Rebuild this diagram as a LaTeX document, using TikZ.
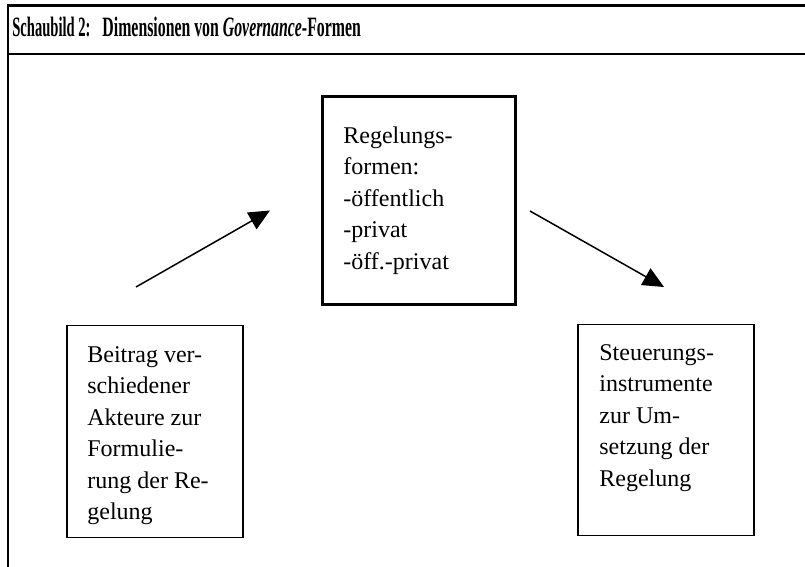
\documentclass[tikz,border=0pt]{standalone}
\usepackage{fontspec}
\setmainfont{Liberation Serif}
\usepackage{graphicx}
\usetikzlibrary{positioning,arrows.meta}

\tikzset{
  frame/.style={line width=1.25pt, line join=miter},
  box/.style={draw, line width=0.75pt, minimum width=88pt, minimum height=106pt, inner sep=0pt, anchor=north west},
  thickbox/.style={box, line width=1.5pt, minimum width=96.5pt, minimum height=104pt},
  txt/.style={inner sep=0pt, align=left, anchor=north west, font=\fontsize{12}{15.75}\selectfont},
  head/.style={inner sep=0pt, anchor=base west, font=\fontsize{14}{16}\selectfont\bfseries},
  arr/.style={-{Triangle[length=10.5pt,width=9.5pt]}, line width=0.75pt}
}

\begin{document}
\begin{tikzpicture}[x=0.5pt, y=-0.5pt]

\useasboundingbox (0,0) rectangle (805,567);

% draw frame and title
\draw [frame] (805,5.3) -| (8,567);
\draw [frame] (8,54.2) -- (805,54.2);
\node (titel) [head] at (12,37) {\scalebox{0.52}[1]{Schaubild 2:}\hspace{6pt}\scalebox{0.565}[1]{Dimensionen von \textit{Governance}-Formen}};

% draw boxes
\node (regel) [thickbox] at (321,95) {};
\node (akteure) [box] at (66,325) {};
\node (steuer) [box, minimum height=105.5pt] at (577,324) {};

\node (regel_txt) [txt, below right=15.5pt and 11pt of regel.north west] {Regelungs-\\formen:\\-öffentlich\\-privat\\-öff.-privat};
\node (akteure_txt) [txt, below right=10.5pt and 10.5pt of akteure.north west] {Beitrag ver-\\schiedener\\Akteure zur\\Formulie-\\rung der Re-\\gelung};
\node (steuer_txt) [txt, below right=10pt and 11pt of steuer.north west] {Steuerungs-\\instrumente\\zur Um-\\setzung der\\Regelung};

% draw arrows
\coordinate (a_1) at (136,287);
\coordinate (a_2) at (270,210.5);
\coordinate (b_1) at (530,211);
\coordinate (b_2) at (664,287);

\draw [arr] (a_1) -- (a_2);
\draw [arr] (b_1) -- (b_2);

\end{tikzpicture}
\end{document}
